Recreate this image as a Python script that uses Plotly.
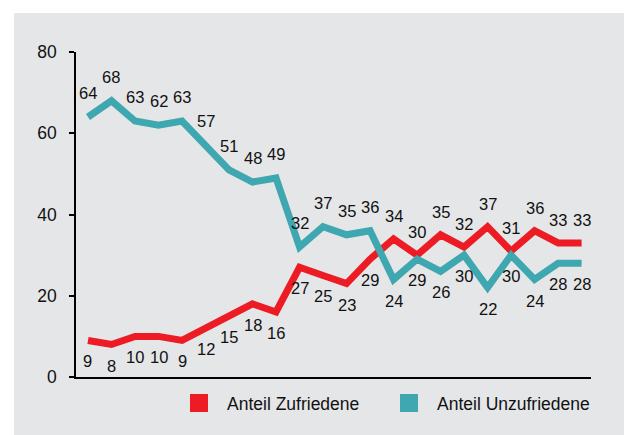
import plotly.graph_objects as go

# ---- data ----
periods = list(range(22))
zufriedene = [9, 8, 10, 10, 9, 12, 15, 18, 16, 27, 25, 23, 29, 34, 30, 35, 32, 37, 31, 36, 33, 33]
unzufriedene = [64, 68, 63, 62, 63, 57, 51, 48, 49, 32, 37, 35, 36, 24, 29, 26, 30, 22, 30, 24, 28, 28]
series_names = ["Anteil Zufriedene", "Anteil Unzufriedene"]
y_ticks = [0, 20, 40, 60, 80]

RED = "#ED1C24"
TEAL = "#3EA7AF"
BG = "#E5E6E8"
TXT = "#111111"
FONT = "Liberation Sans, Arial, Helvetica, sans-serif"

W, H = 624, 435
ML, MR, MT, MB = 76, 33, 52, 58
PW = W - ML - MR
PH = H - MT - MB

fig = go.Figure()
for name, vals, col in [(series_names[0], zufriedene, RED), (series_names[1], unzufriedene, TEAL)]:
    fig.add_trace(go.Scatter(x=periods, y=vals, mode="lines", name=name,
                             line=dict(color=col, width=7), showlegend=False,
                             hoverinfo="x+y"))

annotations = []
for i, (r, t) in enumerate(zip(zufriedene, unzufriedene)):
    red_above = r > t
    annotations.append(dict(x=periods[i], y=r, text=str(r), showarrow=False,
                            yshift=23 if red_above else -21,
                            font=dict(size=16.5, color=TXT, family=FONT)))
    annotations.append(dict(x=periods[i], y=t, text=str(t), showarrow=False,
                            yshift=-21 if red_above else 24,
                            font=dict(size=16.5, color=TXT, family=FONT)))

def px_x(p):
    return (p - ML) / PW

def px_y(p):
    return (H - MB - p) / PH

shapes = [dict(type="rect", xref="paper", yref="paper", x0=px_x(14), x1=px_x(W + 2),
               y0=px_y(H + 2), y1=px_y(13), fillcolor=BG, line=dict(width=0), layer="below")]

# legend (manual, square swatches)
legend_items = [(series_names[0], RED, 190), (series_names[1], TEAL, 400)]
for name, col, x0 in legend_items:
    shapes.append(dict(type="rect", xref="paper", yref="paper", x0=px_x(x0), x1=px_x(x0 + 18),
                       y0=px_y(412), y1=px_y(394), fillcolor=col, line=dict(width=0)))
    annotations.append(dict(xref="paper", yref="paper", x=px_x(x0 + 35), y=px_y(404),
                            xanchor="left", yanchor="middle", text=name, showarrow=False,
                            font=dict(size=17.5, color=TXT, family=FONT)))

fig.update_layout(
    width=W, height=H,
    margin=dict(l=ML, r=MR, t=MT, b=MB, pad=0),
    paper_bgcolor="white", plot_bgcolor="rgba(0,0,0,0)",
    font=dict(family=FONT, size=16, color=TXT),
    showlegend=False,
    shapes=shapes, annotations=annotations,
    xaxis=dict(range=[-0.51, 21.4], showline=True, linecolor="black", linewidth=1.5,
               showgrid=False, zeroline=False, showticklabels=False, ticks=""),
    yaxis=dict(range=[0, 80], tickvals=y_ticks, showline=True, linecolor="black", linewidth=1.5,
               ticks="outside", ticklen=5, tickwidth=1.5, tickcolor="black",
               showgrid=False, zeroline=False, ticklabelstandoff=9,
               tickfont=dict(size=17.5, family=FONT, color=TXT)),
)

fig.write_html("out.html", config={"displayModeBar": False},
               post_script="document.body.style.margin='0';document.body.style.overflow='hidden';")
